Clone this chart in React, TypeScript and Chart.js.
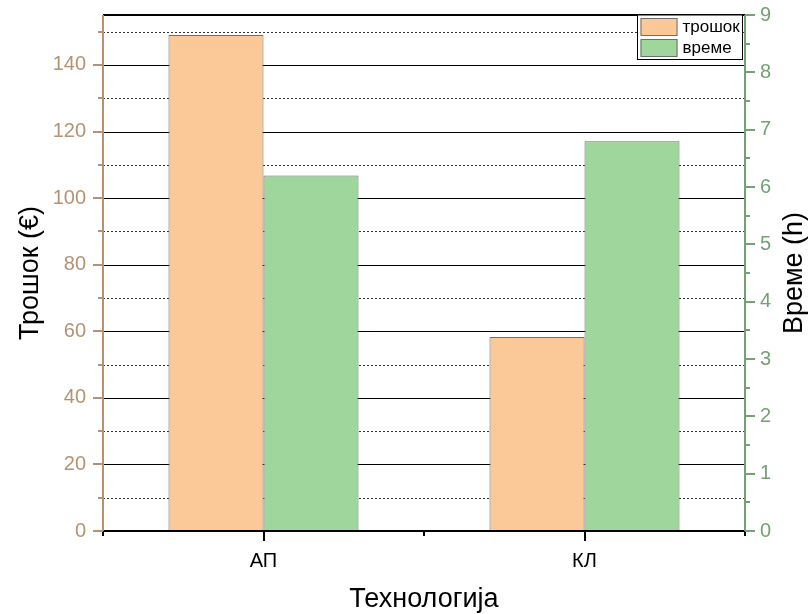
import React, { useEffect, useRef } from "react";
import { Chart, registerables } from "chart.js";

Chart.register(...registerables);

const categories = ["АП", "КЛ"];
const costValues = [149, 58.3];
const timeValues = [6.2, 6.8];
const seriesLabels = ["трошок", "време"];
const costTicks = [0, 10, 20, 30, 40, 50, 60, 70, 80, 90, 100, 110, 120, 130, 140, 150];
const timeTicks = [0, 0.5, 1, 1.5, 2, 2.5, 3, 3.5, 4, 4.5, 5, 5.5, 6, 6.5, 7, 7.5, 8, 8.5, 9];
const rightTitle = "Време (h)";

const ORANGE = "#FBC897";
const GREEN = "#9ED69B";
const BAR_BORDER = "#6E6E6E";
const TAN = "#B59372";
const SAGE = "#74A174";
const FONT = "'Liberation Sans', Arial, sans-serif";

const zeroPad = (scale: any) => {
  scale.paddingTop = 0;
  scale.paddingBottom = 0;
  scale.paddingLeft = 0;
  scale.paddingRight = 0;
};

const decorPlugin = {
  id: "decor",
  beforeDatasetsDraw(chart: any) {
    const { ctx, chartArea } = chart;
    const y = chart.scales.y;
    ctx.save();
    for (const v of costTicks) {
      if (v === 0) continue;
      const py = Math.round(y.getPixelForValue(v)) + 0.5;
      ctx.beginPath();
      if (v % 20 === 0) {
        ctx.setLineDash([]);
        ctx.strokeStyle = "#000";
      } else {
        ctx.setLineDash([2, 2]);
        ctx.strokeStyle = "#333";
      }
      ctx.lineWidth = 1;
      ctx.moveTo(chartArea.left, py);
      ctx.lineTo(chartArea.right, py);
      ctx.stroke();
    }
    ctx.restore();
  },
  afterDatasetsDraw(chart: any) {
    const { ctx, chartArea } = chart;
    const { left, right, top, bottom } = chartArea;
    const y = chart.scales.y;
    const y2 = chart.scales.y2;
    const x = chart.scales.x;
    ctx.save();
    ctx.setLineDash([]);
    ctx.strokeStyle = "#000";
    ctx.lineWidth = 2;
    ctx.beginPath();
    ctx.moveTo(left, top);
    ctx.lineTo(right, top);
    ctx.stroke();
    ctx.beginPath();
    ctx.moveTo(left, bottom);
    ctx.lineTo(right, bottom);
    ctx.stroke();
    for (let i = 0; i < categories.length; i++) {
      const px = Math.round(x.getPixelForValue(i));
      ctx.beginPath();
      ctx.moveTo(px, bottom);
      ctx.lineTo(px, bottom + 10);
      ctx.stroke();
    }
    for (let i = 0; i <= categories.length; i++) {
      const px = Math.round(x.getPixelForValue(i - 0.5));
      ctx.beginPath();
      ctx.moveTo(px, bottom);
      ctx.lineTo(px, bottom + 5);
      ctx.stroke();
    }
    ctx.strokeStyle = TAN;
    ctx.beginPath();
    ctx.moveTo(left, top);
    ctx.lineTo(left, bottom);
    ctx.stroke();
    for (const v of costTicks) {
      const py = Math.round(y.getPixelForValue(v));
      const len = v % 20 === 0 ? 10 : 5;
      ctx.beginPath();
      ctx.moveTo(left - len, py);
      ctx.lineTo(left, py);
      ctx.stroke();
    }
    ctx.strokeStyle = SAGE;
    ctx.beginPath();
    ctx.moveTo(right, top);
    ctx.lineTo(right, bottom);
    ctx.stroke();
    for (const v of timeTicks) {
      const py = Math.round(y2.getPixelForValue(v));
      const len = v % 1 === 0 ? 10 : 5;
      ctx.beginPath();
      ctx.moveTo(right, py);
      ctx.lineTo(right + len, py);
      ctx.stroke();
    }
    ctx.restore();
  },
  afterDraw(chart: any) {
    const { ctx, chartArea } = chart;
    const ds = chart.data.datasets;
    const boxRight = chartArea.right - 2.5;
    const boxLeft = boxRight - 105;
    const boxTop = chartArea.top;
    const boxBottom = boxTop + 44.5;
    ctx.save();
    ctx.fillStyle = "#fff";
    ctx.fillRect(boxLeft, boxTop, boxRight - boxLeft, boxBottom - boxTop);
    ctx.strokeStyle = "#000";
    ctx.lineWidth = 1;
    ctx.strokeRect(boxLeft, boxTop, boxRight - boxLeft, boxBottom - boxTop);
    ds.forEach((d: any, i: number) => {
      const sy = boxTop + 3 + i * 21;
      ctx.fillStyle = d.backgroundColor;
      ctx.fillRect(boxLeft + 3, sy, 37, 18);
      ctx.strokeStyle = BAR_BORDER;
      ctx.strokeRect(boxLeft + 3.5, sy + 0.5, 36, 17);
      ctx.fillStyle = "#000";
      ctx.font = `17px ${FONT}`;
      ctx.textBaseline = "middle";
      ctx.textAlign = "left";
      ctx.fillText(d.label, boxLeft + 45, sy + 9);
    });
    ctx.save();
    ctx.translate(795, (chartArea.top + chartArea.bottom) / 2);
    ctx.rotate(-Math.PI / 2);
    ctx.fillStyle = "#000";
    ctx.font = `27px ${FONT}`;
    ctx.textAlign = "center";
    ctx.textBaseline = "middle";
    ctx.fillText(rightTitle, 0, 0);
    ctx.restore();
    ctx.restore();
  },
};

export default function App() {
  const ref = useRef<HTMLCanvasElement | null>(null);
  useEffect(() => {
    if (!ref.current) return;
    const chart = new Chart(ref.current, {
      type: "bar",
      data: {
        labels: categories,
        datasets: [
          {
            label: seriesLabels[0],
            data: costValues,
            yAxisID: "y",
            backgroundColor: ORANGE,
            borderColor: BAR_BORDER,
            borderWidth: 1,
            categoryPercentage: 0.592,
            barPercentage: 1,
          },
          {
            label: seriesLabels[1],
            data: timeValues,
            yAxisID: "y2",
            backgroundColor: GREEN,
            borderColor: BAR_BORDER,
            borderWidth: 1,
            categoryPercentage: 0.592,
            barPercentage: 1,
          },
        ],
      },
      options: {
        responsive: false,
        animation: false,
        layout: { padding: { top: 15, left: 0, right: 0, bottom: 0 } },
        plugins: { legend: { display: false }, tooltip: { enabled: false } },
        scales: {
          x: {
            type: "category",
            offset: true,
            grid: { display: false, drawTicks: false },
            border: { display: false },
            ticks: { color: "#000", font: { size: 20, family: FONT }, padding: 18 },
            title: {
              display: true,
              text: "Технологија",
              color: "#000",
              font: { size: 27, family: FONT, lineHeight: 1 },
              padding: { top: 0, bottom: 1 },
            },
            afterFit(scale: any) {
              scale.height = 83;
              zeroPad(scale);
            },
          },
          y: {
            type: "linear",
            position: "left",
            min: 0,
            max: 155,
            grid: { display: false, drawTicks: false },
            border: { display: false },
            ticks: {
              stepSize: 10,
              autoSkip: false,
              color: TAN,
              font: { size: 20, family: FONT },
              padding: 17,
              callback: (v: any) => (Number(v) % 20 === 0 ? String(v) : ""),
            },
            title: {
              display: true,
              text: "Трошок (€)",
              color: "#000",
              font: { size: 27, family: FONT, lineHeight: 1 },
              padding: { top: 17, bottom: 0 },
            },
            afterFit(scale: any) {
              scale.width = 103;
              zeroPad(scale);
            },
          },
          y2: {
            type: "linear",
            position: "right",
            min: 0,
            max: 9,
            grid: { display: false, drawTicks: false },
            border: { display: false },
            ticks: {
              stepSize: 1,
              autoSkip: false,
              color: SAGE,
              font: { size: 20, family: FONT },
              padding: 15,
            },
            afterFit(scale: any) {
              scale.width = 64;
              zeroPad(scale);
            },
          },
        },
      },
      plugins: [decorPlugin],
    });
    return () => chart.destroy();
  }, []);
  return (
    <canvas
      ref={ref}
      width={809}
      height={614}
      style={{ position: "absolute", left: 0, top: 0, display: "block" }}
    />
  );
}
